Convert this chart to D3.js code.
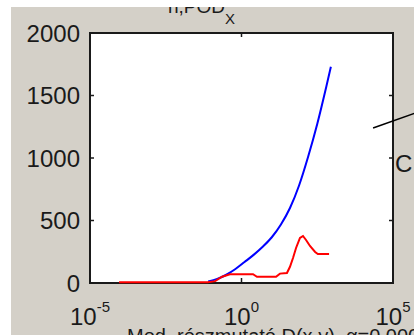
<!DOCTYPE html>
<html>
<head>
<meta charset="utf-8">
<script src="https://cdn.jsdelivr.net/npm/d3@7"></script>
<style>
  html, body { margin: 0; padding: 0; background: #d4d0c8; }
  svg { display: block; }
  text { font-family: Arial, "Liberation Sans", sans-serif; fill: #1a1a1a; }
</style>
</head>
<body>
<svg id="chart" width="414" height="335"></svg>
<script>
// Modified sub-index D(x,y) (log scale) against m,POD_X
const blueD   = [0.0794, 0.158, 0.316, 0.631, 1.26, 2.51, 5.01, 10, 20, 39.8, 79.4, 158, 316, 631, 891];
const blueVal = [12, 33, 66, 112, 168, 225, 290, 366, 468, 600, 780, 1010, 1272, 1572, 1730];

const redD    = [9.1e-5, 0.0776, 0.135, 0.229, 0.417, 2.40, 3.24, 13.8, 18.6, 31.6, 39.8, 50.1, 63.1, 85.1, 107, 135, 182, 269, 331, 776];
const redVal  = [6, 6, 15, 50, 70, 70, 50, 50, 75, 80, 130, 200, 280, 360, 376, 344, 296, 248, 232, 232];

const yTicks = [0, 500, 1000, 1500, 2000];
const xTickExp = [-5, 0, 5];
const titleMain = "n,POD";
const titleSub = "X";
const xLabel = "Mod. részmutató D(x,y), α=0.000";
const sideLabel = "C";
// pointer line, in data units (D, value)
const pointer = [[2.2e4, 1240], [1.6e6, 1400]];

const svg = d3.select("#chart");
const W = 414, H = 335;
const plot = { left: 90, right: 393, top: 33, bottom: 283 };

const x = d3.scaleLog().domain([1e-5, 1e5]).range([plot.left, plot.right]);
const y = d3.scaleLinear().domain([0, 2000]).range([plot.bottom, plot.top]);

// figure background
svg.append("rect").attr("width", W).attr("height", H).attr("fill", "#d4d0c8");

// axes background
svg.append("rect")
  .attr("x", plot.left).attr("y", plot.top)
  .attr("width", plot.right - plot.left).attr("height", plot.bottom - plot.top)
  .attr("fill", "#ffffff");

// axes box
svg.append("rect")
  .attr("x", plot.left).attr("y", plot.top)
  .attr("width", plot.right - plot.left).attr("height", plot.bottom - plot.top)
  .attr("fill", "none").attr("stroke", "#1a1a1a").attr("stroke-width", 2);

// title (partly hidden at the top)
const title = svg.append("text")
  .attr("x", 168).attr("y", 13)
  .attr("font-size", 19);
title.append("tspan").text(titleMain);
title.append("tspan").attr("font-size", 15).attr("dy", 11).text(titleSub);

const blueLine = d3.line().x(d => x(d[0])).y(d => y(d[1])).curve(d3.curveMonotoneX);
const redLine = d3.line().x(d => x(d[0])).y(d => y(d[1]));

svg.append("path")
  .datum(blueD.map((d, i) => [d, blueVal[i]]))
  .attr("d", blueLine)
  .attr("fill", "none").attr("stroke", "#0000ff").attr("stroke-width", 2);

svg.append("path")
  .datum(redD.map((d, i) => [d, redVal[i]]))
  .attr("d", redLine)
  .attr("fill", "none").attr("stroke", "#ff0000").attr("stroke-width", 2);

// inward ticks on all four sides
const tickLen = 4;
yTicks.forEach(v => {
  svg.append("line").attr("x1", plot.left).attr("x2", plot.left + tickLen)
    .attr("y1", y(v)).attr("y2", y(v)).attr("stroke", "#1a1a1a").attr("stroke-width", 1.5);
  svg.append("line").attr("x1", plot.right).attr("x2", plot.right - tickLen)
    .attr("y1", y(v)).attr("y2", y(v)).attr("stroke", "#1a1a1a").attr("stroke-width", 1.5);
  svg.append("text")
    .attr("x", plot.left - 10).attr("y", y(v))
    .attr("dy", "0.36em").attr("text-anchor", "end")
    .attr("font-size", 24).text(v);
});

xTickExp.forEach(e => {
  const px = x(Math.pow(10, e));
  svg.append("line").attr("x1", px).attr("x2", px)
    .attr("y1", plot.bottom).attr("y2", plot.bottom - tickLen - 1).attr("stroke", "#1a1a1a").attr("stroke-width", 1.5);
  svg.append("line").attr("x1", px).attr("x2", px)
    .attr("y1", plot.top).attr("y2", plot.top + tickLen).attr("stroke", "#1a1a1a").attr("stroke-width", 1.5);
  const t = svg.append("text")
    .attr("x", px).attr("y", 325)
    .attr("text-anchor", "middle").attr("font-size", 24);
  t.append("tspan").text("10");
  t.append("tspan").attr("font-size", 15).attr("dy", -13).text(e);
});

// x-axis label (only its top shows)
svg.append("text")
  .attr("x", 127).attr("y", 343)
  .attr("font-size", 20).text(xLabel);

// pointer line and side label
svg.append("line")
  .attr("x1", x(pointer[0][0])).attr("y1", y(pointer[0][1]))
  .attr("x2", x(pointer[1][0])).attr("y2", y(pointer[1][1]))
  .attr("stroke", "#000").attr("stroke-width", 1.6);

svg.append("text")
  .attr("x", 395).attr("y", 172)
  .attr("font-size", 24).text(sideLabel);

// white margins of the figure window
svg.append("rect").attr("x", 0).attr("y", 0).attr("width", W).attr("height", 7).attr("fill", "#ffffff");
svg.append("rect").attr("x", 0).attr("y", 0).attr("width", 11).attr("height", H).attr("fill", "#ffffff");
</script>
</body>
</html>
